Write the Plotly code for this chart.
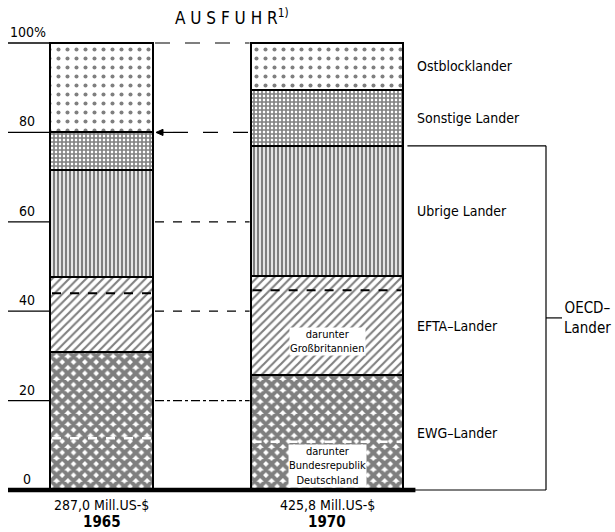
import plotly.graph_objects as go

# ---------------- data ----------------
years = ["1965", "1970"]
totals = [287.0, 425.8]                      # Mill. US-$
total_labels = ["287,0 Mill.US-$", "425,8 Mill.US-$"]
categories = ["EWG–Lander", "EFTA–Lander", "Ubrige Lander", "Sonstige Lander", "Ostblocklander"]
ewg = [30.9, 25.7]
efta = [16.8, 22.2]
uebrige = [24.0, 29.1]
sonstige = [8.3, 12.5]
ostblock = [20.0, 10.5]
brd = [11.6, 10.8]          # darunter Bundesrepublik Deutschland (part of EWG)
gb = [13.1, 19.0]           # darunter Großbritannien (part of EFTA)
ticks = [0, 20, 40, 60, 80, 100]
tick_labels = ["0", "20", "40", "60", "80", "100%"]

# ---------------- layout constants ----------------
W, H = 615, 532
Y0, Y100 = 490.0, 43.0           # pixel rows of 0 % and 100 %
ppu = (Y0 - Y100) / 100.0
yr = [(Y0 - H) / ppu, Y0 / ppu]
centers = [101.5, 327.0]
wscale = 103.0 / 287.0
widths = [t * wscale for t in totals]
lefts = [c - w / 2 for c, w in zip(centers, widths)]
rights = [c + w / 2 for c, w in zip(centers, widths)]
FONT = "DejaVu Sans Condensed, Liberation Sans Narrow, Arial Narrow, sans-serif"

def py(p):  # pixel row -> value
    return (Y0 - p) / ppu

series = [ewg, efta, uebrige, sonstige, ostblock]
patterns = [
    dict(shape="x", size=8, solidity=0.75),
    dict(shape="/", size=6, solidity=0.35),
    dict(shape="|", size=4, solidity=0.6),
    dict(shape="+", size=4, solidity=0.65),
    dict(shape=".", size=9, solidity=0.16),
]

fig = go.Figure()
for name, vals, pat in zip(categories, series, patterns):
    fig.add_trace(go.Bar(
        x=centers, y=vals, width=widths, name=name,
        marker=dict(color="white", line=dict(color="black", width=2.5),
                    pattern=dict(fgcolor="black", bgcolor="white", **pat)),
        hoverinfo="skip",
    ))

shapes = []
# left tick lines
for t in ticks[1:]:
    shapes.append(dict(type="line", x0=8, x1=lefts[0], y0=t, y1=t,
                       line=dict(color="black", width=1.3), layer="below"))
# connecting lines between the bars
dashes = {20: "dashdot", 40: "dash", 60: "dash", 80: "longdash", 100: "longdash"}
for t in ticks[1:]:
    x0 = rights[0] + (20 if t == 80 else 2)
    shapes.append(dict(type="line", x0=x0, x1=lefts[1] - 1, y0=t, y1=t,
                       line=dict(color="black", width=1.2, dash=dashes[t]), layer="below"))
# arrow at 80 (pointing to the 1965 bar)
ax0 = rights[0] + 3
shapes.append(dict(type="line", x0=ax0 + 4, x1=rights[0] + 20, y0=80, y1=80,
                   line=dict(color="black", width=1.2)))
shapes.append(dict(type="path", path=f"M {ax0} 80 L {ax0 + 7} {80 + 0.7} L {ax0 + 7} {80 - 0.7} Z",
                   fillcolor="black", line=dict(color="black", width=1)))
# baseline
shapes.append(dict(type="line", x0=8, x1=rights[1] + 12, y0=0, y1=0,
                   line=dict(color="black", width=4.5), layer="above"))

# sub-division dashed lines
for i in range(2):
    shapes.append(dict(type="line", x0=lefts[i] + 2, x1=rights[i] - 2, y0=brd[i], y1=brd[i],
                       line=dict(color="white", width=2.5, dash="dash"), layer="above"))
    yg = ewg[i] + gb[i]
    shapes.append(dict(type="line", x0=lefts[i] + 2, x1=rights[i] - 2, y0=yg, y1=yg,
                       line=dict(color="black", width=2, dash="dash"), layer="above"))

# OECD bracket
oecd_top = ewg[1] + efta[1] + uebrige[1]
bx = 546
shapes += [
    dict(type="line", x0=rights[1] + 4, x1=bx, y0=oecd_top, y1=oecd_top, line=dict(color="black", width=1.2)),
    dict(type="line", x0=rights[1] + 10, x1=bx, y0=0, y1=0, line=dict(color="black", width=1.2)),
    dict(type="line", x0=bx, x1=bx, y0=0, y1=oecd_top, line=dict(color="black", width=1.2)),
    dict(type="line", x0=bx, x1=bx + 16, y0=oecd_top / 2, y1=oecd_top / 2, line=dict(color="black", width=1.2)),
]

ann = []
# tick labels
for t, lab in zip(ticks, tick_labels):
    ann.append(dict(x=8 if t == 100 else 27, y=t, text=lab, showarrow=False,
                    xanchor="left" if t == 100 else "center", yanchor="bottom", yshift=1,
                    font=dict(family=FONT, size=14, color="black")))
# title
ann.append(dict(x=173, y=py(17), text="A U S F U H R<sup>1)</sup>", showarrow=False,
                xanchor="left", yanchor="middle", font=dict(family=FONT, size=17, color="black")))
# category labels at right (mid of 1970 segments)
cum = 0
for name, vals in zip(categories, series):
    mid = cum + vals[1] / 2
    cum += vals[1]
    ann.append(dict(x=415, y=mid, text=name, showarrow=False, xanchor="left", yanchor="middle",
                    font=dict(family=FONT, size=14, color="black")))
ann.append(dict(x=562, y=oecd_top / 2, text="OECD–<br>Lander", showarrow=False, xanchor="left",
                yanchor="middle", align="center", font=dict(family=FONT, size=15, color="black")))
# inner labels
ann.append(dict(x=centers[1], y=ewg[1] + gb[1] / 2 - 2, text="darunter<br>Großbritannien", showarrow=False,
                bgcolor="white", borderpad=0, font=dict(family=FONT, size=11, color="black")))
ann.append(dict(x=centers[1], y=brd[1] / 2, text="darunter<br>Bundesrepublik<br>Deutschland", showarrow=False,
                bgcolor="white", borderpad=0, font=dict(family=FONT, size=11, color="black")))
# bottom labels
for c, tl, yrs in zip(centers, total_labels, years):
    ann.append(dict(x=c, y=py(505), text=tl, showarrow=False, yanchor="middle",
                    font=dict(family=FONT, size=14, color="black")))
    ann.append(dict(x=c, y=py(522), text="<b>" + yrs + "</b>", showarrow=False, yanchor="middle",
                    font=dict(family=FONT, size=15, color="black")))

fig.update_layout(
    width=W, height=H, autosize=False, barmode="stack", bargap=0,
    margin=dict(l=0, r=0, t=0, b=0),
    paper_bgcolor="white", plot_bgcolor="white", showlegend=False,
    xaxis=dict(range=[0, W], visible=False, fixedrange=True),
    yaxis=dict(range=yr, visible=False, fixedrange=True),
    shapes=shapes, annotations=ann,
)
fig.write_html("out.html", config={"displayModeBar": False},
               post_script="document.body.style.margin='0px';document.body.style.overflow='hidden';")
